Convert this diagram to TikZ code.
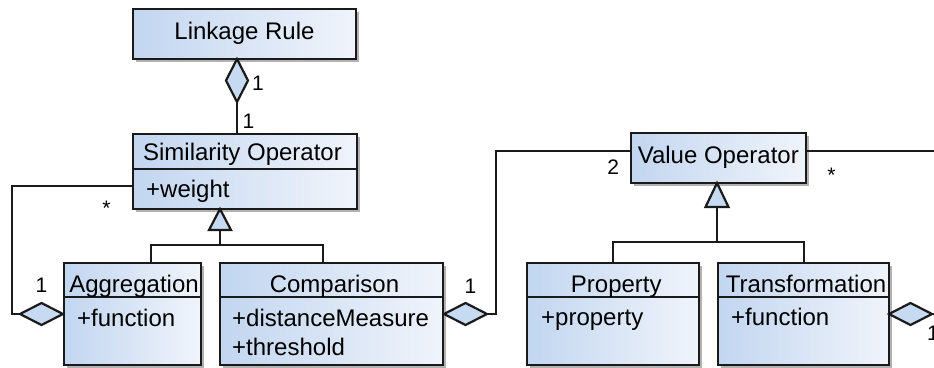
\documentclass[tikz,border=0pt]{standalone}
\usepackage{fontspec}
\setmainfont{Liberation Sans}
\usetikzlibrary{shapes.geometric,shadows}
\definecolor{linec}{HTML}{1A1A1A}
\definecolor{boxL}{HTML}{C2D6F0}
\definecolor{boxR}{HTML}{F0F4FB}
\definecolor{dfill}{HTML}{C6DAF1}
\begin{document}
\begin{tikzpicture}[x=1pt,y=-1pt,
  cls/.style={draw=linec, line width=2pt, left color=boxL, right color=boxR,
    drop shadow={shadow xshift=3pt, shadow yshift=-3pt, fill=black, opacity=0.3},
    inner sep=0pt, outer sep=0pt},
  title/.style={font=\fontsize{24}{28}\selectfont, inner sep=0pt, anchor=base},
  attr/.style={font=\fontsize{24}{28}\selectfont, inner sep=0pt, anchor=base west},
  mult/.style={font=\fontsize{21}{24}\selectfont, inner sep=0pt, anchor=base},
  conn/.style={draw=linec, line width=2.6pt},
  sep/.style={draw=linec, line width=1.8pt},
  aggd/.style={diamond, draw=linec, line width=2.2pt, fill=dfill, inner sep=0pt, outer sep=0pt},
  tri/.style={draw=linec, line width=2.2pt, fill=dfill, line join=miter}
]
\useasboundingbox (0,0) rectangle (934,367);
\clip (0,0) rectangle (934,367);

% boxes
\node[cls, minimum width=223pt, minimum height=50pt] (lr) at (244.5,34) {};
\node[cls, minimum width=224pt, minimum height=75pt] (so) at (245,171.5) {};
\node[cls, minimum width=137pt, minimum height=102pt] (agg) at (132.5,314) {};
\node[cls, minimum width=223pt, minimum height=102pt] (cmp) at (331.5,314) {};
\node[cls, minimum width=175pt, minimum height=50pt] (vo) at (718.5,158) {};
\node[cls, minimum width=172pt, minimum height=102pt] (prop) at (613,314) {};
\node[cls, minimum width=171pt, minimum height=102pt] (tr) at (803.5,314) {};

% compartment separators
\coordinate (s1) at (0,169);
\coordinate (s2) at (0,297);
\draw[sep] (so.west |- s1) -- (so.east |- s1);
\draw[sep] (agg.west |- s2) -- (agg.east |- s2);
\draw[sep] (cmp.west |- s2) -- (cmp.east |- s2);
\draw[sep] (prop.west |- s2) -- (prop.east |- s2);
\draw[sep] (tr.west |- s2) -- (tr.east |- s2);

% texts
\node[title] (tlr) at (244.5,39) {Linkage Rule};
\node[title] (tso) at (242.5,160) {Similarity Operator};
\node[attr] (aso) at (146,197) {+weight};
\node[title] (tagg) at (134,292) {Aggregation};
\node[attr] (aagg) at (77,326) {+function};
\node[title] (tcmp) at (334.5,292) {Comparison};
\node[attr] (acmp1) at (232,326) {+distanceMeasure};
\node[attr] (acmp2) at (232,355) {+threshold};
\node[title] (tvo) at (718.3,163) {Value Operator};
\node[title] (tprop) at (616.3,292) {Property};
\node[attr] (aprop) at (541,325) {+property};
\node[title] (ttr) at (806,292) {Transformation};
\node[attr] (atr) at (731,325) {+function};

% aggregation diamonds
\node[aggd, minimum width=22pt, minimum height=43pt] (d1) at (237,80.5) {};
\node[aggd, minimum width=43pt, minimum height=22pt] (d4) at (41.5,314) {};
\node[aggd, minimum width=43pt, minimum height=22pt] (d2) at (465.5,314) {};
\node[aggd, minimum width=43pt, minimum height=22pt] (d3) at (910.5,314) {};

% Linkage Rule -- Similarity Operator
\draw[conn] (d1.south) -- (d1.south |- so.north);

% self loop
\coordinate (l1) at (12,186);
\draw[conn] (l1 -| so.west) -- (l1) |- (d4.west);

% Comparison -- Value Operator
\coordinate (c2) at (496,151);
\draw[conn] (d2.east) -| (c2) -- (c2 -| vo.west);

% Transformation -- Value Operator
\coordinate (c3) at (950,151);
\draw[conn] (c3 -| vo.east) -- (c3) |- (d3.east);

% generalization: similarity
\coordinate (t1) at (220,209);
\coordinate (t1b) at (220,230);
\coordinate (j1) at (220,245);
\coordinate (ja) at (151,245);
\coordinate (jc) at (323,245);
\draw[conn] (t1b) -- (j1);
\draw[conn] (agg.north -| ja) |- (jc) -- (cmp.north -| jc);
\draw[tri] (t1) -- (209,230) -- (231,230) -- cycle;

% generalization: value
\coordinate (t2) at (717,183);
\coordinate (t2b) at (717,207);
\coordinate (j2) at (717,242);
\coordinate (jp) at (613,242);
\coordinate (jt) at (804,242);
\draw[conn] (t2b) -- (j2);
\draw[conn] (prop.north -| jp) |- (jt) -- (tr.north -| jt);
\draw[tri] (t2) -- (705.5,207) -- (728.5,207) -- cycle;

% multiplicities
\node[mult] (m1) at (258,90) {1};
\node[mult] (m2) at (248.5,128) {1};
\node[mult] (m3) at (106.5,215) {*};
\node[mult] (m4) at (41.5,292) {1};
\node[mult] (m5) at (470.5,293) {1};
\node[mult] (m6) at (613.3,174) {2};
\node[mult] (m7) at (831.5,182) {*};
\node[mult] (m8) at (933,340) {1};
\end{tikzpicture}
\end{document}
